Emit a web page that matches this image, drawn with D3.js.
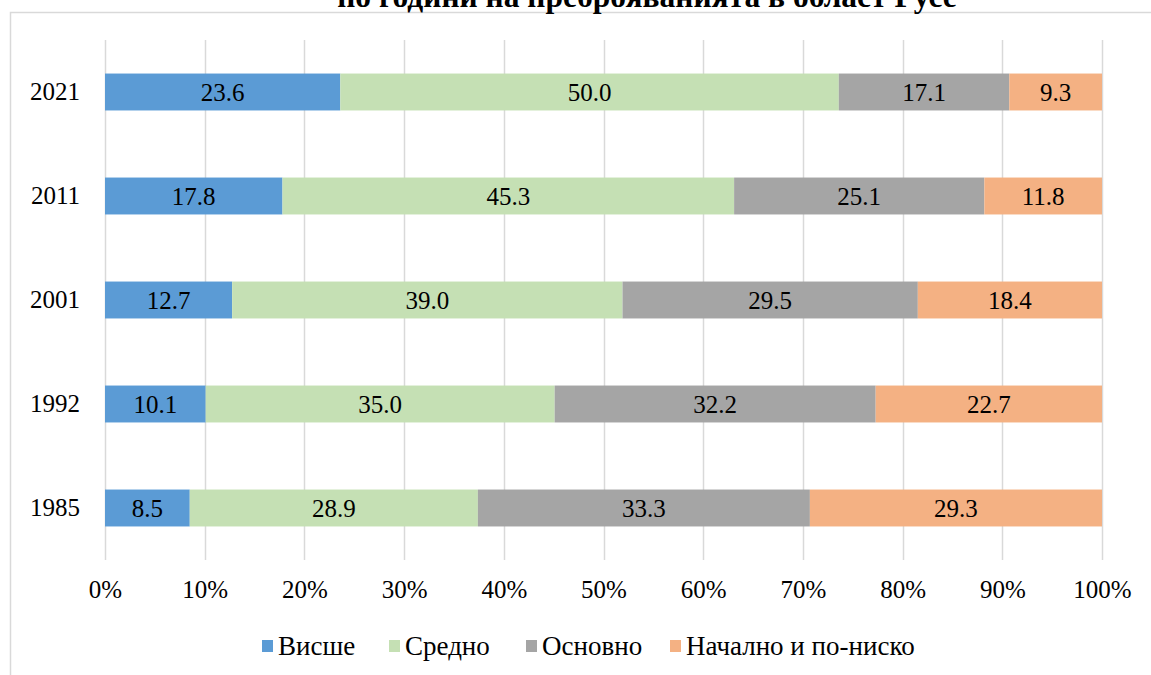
<!DOCTYPE html>
<html>
<head>
<meta charset="utf-8">
<script src="https://cdn.jsdelivr.net/npm/d3@7"></script>
<style>
  body { margin: 0; background: #fff; }
  svg { display: block; font-family: "Liberation Serif", "Times New Roman", serif; }
</style>
</head>
<body>
<svg id="chart"></svg>
<script>
// Data
const years = ['2021', '2011', '2001', '1992', '1985'];
const seriesNames = ['Висше', 'Средно', 'Основно', 'Начално и по-ниско'];
const visshe = [23.6, 17.8, 12.7, 10.1, 8.5];
const sredno = [50.0, 45.3, 39.0, 35.0, 28.9];
const osnovno = [17.1, 25.1, 29.5, 32.2, 33.3];
const nachalno = [9.3, 11.8, 18.4, 22.7, 29.3];
const tickValues = [0, 0.1, 0.2, 0.3, 0.4, 0.5, 0.6, 0.7, 0.8, 0.9, 1];
const colors = ['#5b9bd5', '#c5e0b4', '#a5a5a5', '#f4b183'];

const width = 1151, height = 675;
const margin = { top: 40, right: 49, bottom: 115, left: 105 };
const serif = '"Liberation Serif", "Times New Roman", serif';

const svg = d3.select('#chart')
  .attr('width', width)
  .attr('height', height);

// outer chart border (cut off at the right and bottom like the original)
svg.append('rect')
  .attr('x', 10.5).attr('y', 12.5)
  .attr('width', 1200).attr('height', 700)
  .attr('fill', 'none')
  .attr('stroke', '#d9d9d9')
  .attr('stroke-width', 1.5);

// title (partially outside the top, as in the original)
svg.append('text')
  .attr('x', 647)
  .attr('y', 7)
  .attr('text-anchor', 'middle')
  .style('font-family', serif)
  .style('font-size', '31.5px')
  .style('font-weight', 'bold')
  .text('по години на преброяванията в област Русе');

// table of rows, normalized to 100%
const table = years.map((y, i) => {
  const vals = [visshe[i], sredno[i], osnovno[i], nachalno[i]];
  const total = d3.sum(vals);
  const row = { year: y };
  seriesNames.forEach((s, j) => { row[s] = vals[j] / total; row[s + '_raw'] = vals[j]; });
  return row;
});

const stacked = d3.stack().keys(seriesNames)(table);

const x = d3.scaleLinear()
  .domain([0, 1])
  .range([margin.left, width - margin.right]);

const y = d3.scaleBand()
  .domain(years)
  .range([margin.top, height - margin.bottom])
  .paddingInner(0.645)
  .paddingOuter(0.3225);

const color = d3.scaleOrdinal().domain(seriesNames).range(colors);

// gridlines
svg.append('g')
  .selectAll('line')
  .data(tickValues)
  .join('line')
  .attr('x1', d => Math.round(x(d)) + 0.5)
  .attr('x2', d => Math.round(x(d)) + 0.5)
  .attr('y1', margin.top)
  .attr('y2', height - margin.bottom)
  .attr('stroke', '#d9d9d9')
  .attr('stroke-width', 1.5);

// bars
const groups = svg.append('g')
  .selectAll('g')
  .data(stacked)
  .join('g')
  .attr('fill', d => color(d.key));

groups.selectAll('rect')
  .data(d => d)
  .join('rect')
  .attr('x', d => x(d[0]))
  .attr('width', d => x(d[1]) - x(d[0]))
  .attr('y', d => y(d.data.year))
  .attr('height', y.bandwidth());

// value labels
groups.each(function(s) {
  d3.select(this).selectAll('text')
    .data(s)
    .join('text')
    .attr('x', d => (x(d[0]) + x(d[1])) / 2)
    .attr('y', d => y(d.data.year) + y.bandwidth() / 2)
    .attr('dy', '0.35em')
    .attr('text-anchor', 'middle')
    .style('font-family', serif)
    .style('font-size', '25px')
    .attr('fill', '#000')
    .text(d => d.data[s.key + '_raw'].toFixed(1));
});

// y axis labels
const yAxis = svg.append('g')
  .attr('transform', `translate(${margin.left},0)`)
  .call(d3.axisLeft(y).tickSize(0).tickPadding(25));
yAxis.select('.domain').remove();
yAxis.selectAll('text')
  .style('font-family', serif)
  .style('font-size', '25px')
  .attr('fill', '#000');

// x axis labels
const xAxis = svg.append('g')
  .attr('transform', `translate(0,${height - margin.bottom})`)
  .call(d3.axisBottom(x).tickValues(tickValues).tickFormat(d3.format('.0%')).tickSize(0).tickPadding(20));
xAxis.select('.domain').remove();
xAxis.selectAll('text')
  .style('font-family', serif)
  .style('font-size', '25px')
  .attr('fill', '#000');

// legend
const legendX = [262, 389, 526, 670];
const legend = svg.append('g')
  .selectAll('g')
  .data(seriesNames)
  .join('g')
  .attr('transform', (d, i) => `translate(${legendX[i]},646)`);

legend.append('rect')
  .attr('x', 0).attr('y', -6)
  .attr('width', 11).attr('height', 12)
  .attr('fill', d => color(d));

legend.append('text')
  .attr('x', 16)
  .attr('dy', '0.35em')
  .style('font-family', serif)
  .style('font-size', '27px')
  .text(d => d);
</script>
</body>
</html>
